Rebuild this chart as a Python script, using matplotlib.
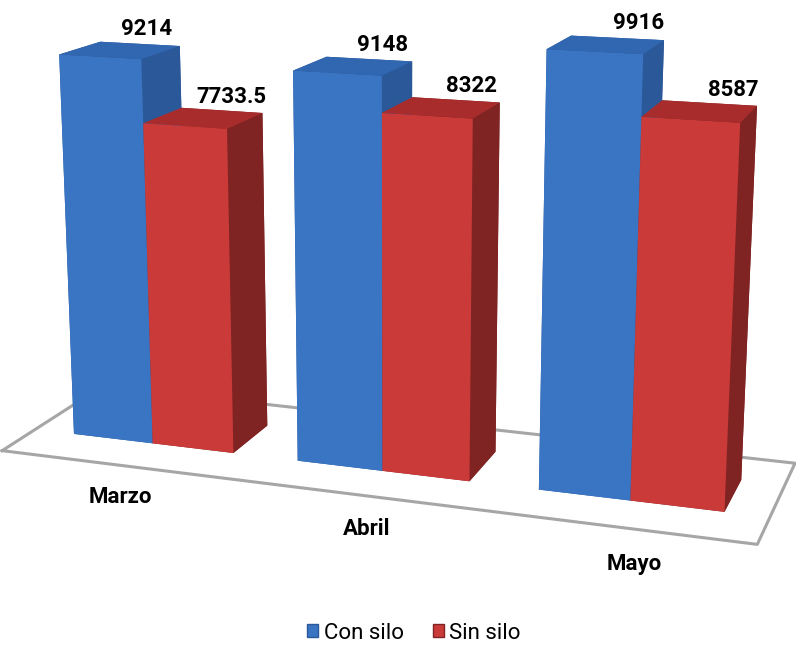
"""
plot.py - 3D clustered columns, Con silo vs Sin silo per month
"""
import numpy as np
import matplotlib
matplotlib.use("Agg")
import matplotlib.pyplot as plt
from matplotlib.patches import Patch

months = ["Marzo", "Abril", "Mayo"]
series = ["Con silo", "Sin silo"]
con_silo = [9214, 9148, 9916]
sin_silo = [7733.5, 8322, 8587]
con_labels = ["9214", "9148", "9916"]
sin_labels = ["7733.5", "8322", "8587"]

# face colours: front, top, right side
BLUE = dict(front="#3a75c4", top="#3166b0", side="#2b5898")
RED = dict(front="#c93a38", top="#a92c2c", side="#802323")

plt.rcParams["font.family"] = ["Roboto", "DejaVu Sans"]

BW = 0.36      # bar width (x)
BD = 0.36      # bar depth (y)
FLOOR_X = (-0.54, 2.53)
FLOOR_Y = (-0.46, 0.44)
ZTOP = 10300
Z_PER_UNIT = 5790          # value units per x unit
ASPECT = (FLOOR_X[1] - FLOOR_X[0], FLOOR_Y[1] - FLOOR_Y[0], ZTOP / Z_PER_UNIT)
norm_scale = 1.8295 / np.linalg.norm(ASPECT)

fig = plt.figure(figsize=(7.96, 6.5), dpi=100)
# square 3d axes, its centre is where the camera aims
PX_PER_UNIT = 217
S = PX_PER_UNIT / (0.48 * norm_scale)
cx, cy = 383, 650 - 255
ax = fig.add_axes([(cx - S / 2) / 796, (cy - S / 2) / 650, S / 796, S / 650],
                  projection="3d")
ax.computed_zorder = False

# floor
fx0, fx1 = FLOOR_X
fy0, fy1 = FLOOR_Y
ax.plot([fx0, fx1, fx1, fx0, fx0], [fy0, fy0, fy1, fy1, fy0], [0] * 5,
        color="#a6a6a6", lw=2.2, zorder=1)

# bars
xs, ys, dz, cols = [], [], [], []
for i in range(len(months)):
    for val, c, off in ((con_silo[i], BLUE, -BW), (sin_silo[i], RED, 0.0)):
        xs.append(i + off)
        ys.append(-BD / 2)
        dz.append(val)
        # order: -z, +z, -y, +y, -x, +x
        cols += [c["side"], c["top"], c["front"], c["side"], c["side"], c["side"]]
n = len(xs)
bars = ax.bar3d(xs, ys, np.zeros(n), BW, BD, dz, color=cols, shade=False,
                linewidth=0)
bars.set_zorder(2)

# value labels
for i in range(len(months)):
    ax.text(i - BW / 2 + 0.12, 0, con_silo[i] + 270, con_labels[i], zdir=None,
            ha="center", va="bottom", fontsize=16, fontweight="bold", zorder=3)
    ax.text(i + BW / 2 + 0.12, 0, sin_silo[i] + 270, sin_labels[i], zdir=None,
            ha="center", va="bottom", fontsize=16, fontweight="bold", zorder=3)
    ax.text(i + 0.15, fy0 - 0.32, 0, months[i], zdir=None,
            ha="center", va="center", fontsize=16, fontweight="bold", zorder=3)

ax.set_xlim(FLOOR_X)
ax.set_ylim(FLOOR_Y)
ax.set_zlim(0, ZTOP)
ax.set_box_aspect(ASPECT, zoom=1.0)
ax.view_init(elev=14, azim=-71)
ax.set_proj_type("persp", focal_length=0.86 * norm_scale)
ax.set_axis_off()

handles = [Patch(facecolor=BLUE["front"], edgecolor=BLUE["side"]),
           Patch(facecolor=RED["front"], edgecolor=RED["side"])]
fig.legend(handles, series, loc="center", bbox_to_anchor=(0.52, 0.026),
           ncol=2, frameon=False, fontsize=16, handlelength=0.5,
           handleheight=0.5, handletextpad=0.25, columnspacing=1.3)

fig.savefig("out.png", dpi=100)
